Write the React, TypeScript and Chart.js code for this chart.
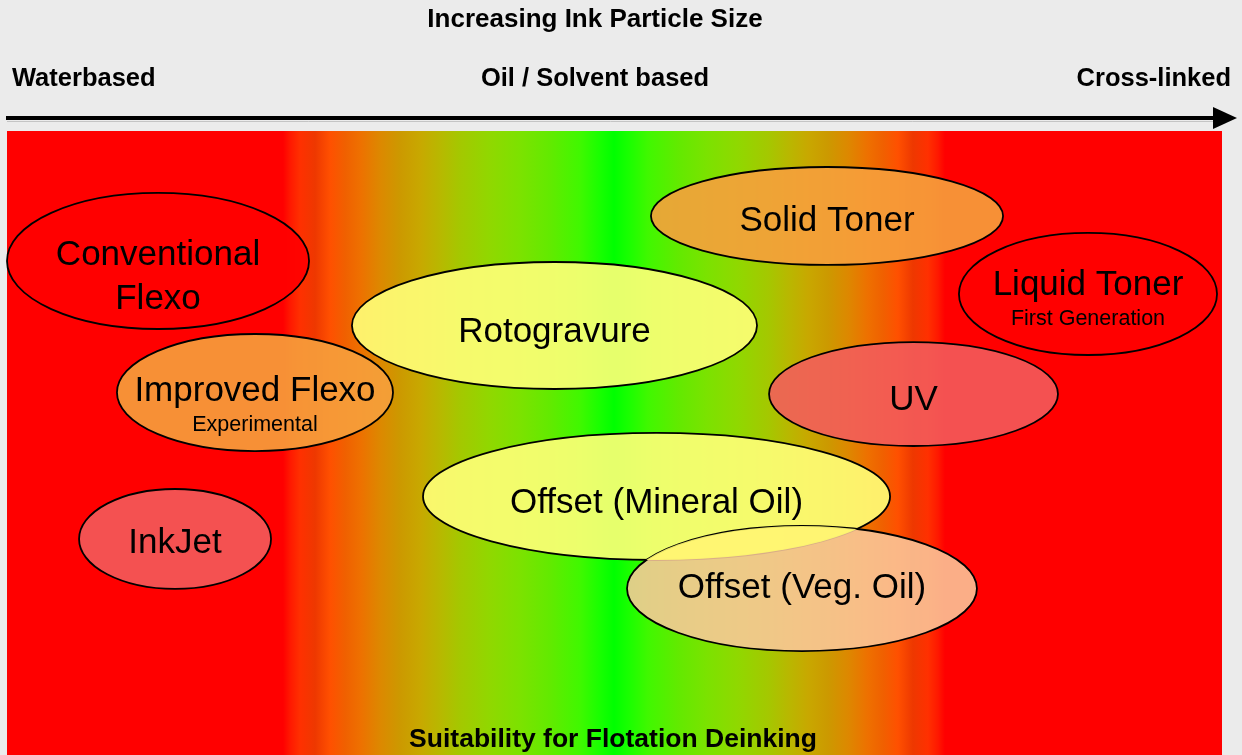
import React, { useEffect, useRef } from "react";
import { Chart, registerables } from "chart.js";

Chart.register(...registerables);

// ---- Data -------------------------------------------------------------
// x: ink particle size (0 = waterbased, 100 = cross-linked)
// y: suitability for flotation deinking scale position (0 bottom, 100 top)
const inkLabels: string[][] = [
  ["Conventional", "Flexo"],
  ["Improved Flexo"],
  ["InkJet"],
  ["Rotogravure"],
  ["Solid Toner"],
  ["Liquid Toner"],
  ["UV"],
  ["Offset (Mineral Oil)"],
  ["Offset (Veg. Oil)"],
];
const inkSubLabels = ["", "Experimental", "", "", "", "First Generation", "", "", ""];
const sizeCentre = [12.43, 20.41, 13.83, 45.06, 67.49, 88.97, 74.61, 53.46, 65.43];
const suitCentre = [79.17, 58.09, 34.62, 68.83, 86.38, 73.88, 57.85, 41.43, 26.68];
const sizeSpread = [12.43, 11.36, 7.9, 16.67, 14.49, 10.62, 11.89, 19.22, 14.4];
const suitSpread = [10.9, 9.38, 8.01, 10.18, 7.85, 9.78, 8.33, 10.18, 10.02];

// background suitability band: distance from the optimum (x units) and colour
const optimumSize = 49.96;
const bandDistance = [0, 1.15, 2.8, 5.27, 7.74, 10.2, 12.67, 14.32, 15.97, 17.61, 19.26, 20.9, 22.14, 23.37, 24.6, 25.84, 26.67, 27.24];
const bandColours = [
  "#00ff00", "#18ff00", "#40f800", "#62ea00", "#7ce200", "#90d800", "#a4c800", "#b8b800", "#c8a800",
  "#cc9900", "#dd8800", "#ee7000", "#f06000", "#ff5000", "#ee3800", "#ff3000", "#ff1800", "#ff0000",
];

const headerTitle = "Increasing Ink Particle Size";
const headerLeft = "Waterbased";
const headerMid = "Oil / Solvent based";
const headerRight = "Cross-linked";
const footerTitle = "Suitability for Flotation Deinking";

// ---- Styles / layout ---------------------------------------------------
const FONT = "'Liberation Sans', Arial, Helvetica, sans-serif";
const PAGE_BG = "#ebebeb";
const inkFills = [
  "rgba(255,0,0,0.92)",
  "rgba(246,160,60,0.9)",
  "rgba(242,92,92,0.88)",
  "rgba(255,255,120,0.9)",
  "rgba(246,160,60,0.9)",
  "rgba(255,0,0,0.92)",
  "rgba(242,92,92,0.88)",
  "rgba(255,255,120,0.9)",
  "rgba(250,200,155,0.87)",
];
const labelNudge = [4, 8.5, 14, 16.5, 15, 1, 16, 16.5, 9.5];
const BIG_GAP = 44;
const SUB_GAP = 30;

const diagramPlugin = {
  id: "inkDiagram",
  beforeDraw(chart: any) {
    const { ctx, chartArea: a } = chart;
    const xs = chart.scales.x;
    ctx.save();
    ctx.fillStyle = PAGE_BG;
    ctx.fillRect(0, 0, chart.width, chart.height);
    const span = a.right - a.left;
    const g = ctx.createLinearGradient(a.left, 0, a.right, 0);
    g.addColorStop(0, "#ff0000");
    g.addColorStop(1, "#ff0000");
    for (let i = bandDistance.length - 1; i >= 0; i--) {
      const p = (xs.getPixelForValue(optimumSize - bandDistance[i]) - a.left) / span;
      g.addColorStop(Math.min(1, Math.max(0, p)), bandColours[i]);
    }
    for (let i = 1; i < bandDistance.length; i++) {
      const p = (xs.getPixelForValue(optimumSize + bandDistance[i]) - a.left) / span;
      g.addColorStop(Math.min(1, Math.max(0, p)), bandColours[i]);
    }
    ctx.fillStyle = g;
    ctx.fillRect(a.left, a.top, span, a.bottom - a.top);

    // header texts
    ctx.fillStyle = "#000";
    ctx.font = `bold 26px ${FONT}`;
    ctx.textBaseline = "alphabetic";
    ctx.textAlign = "center";
    ctx.fillText(headerTitle, 595, 27);
    ctx.font = `bold 25.5px ${FONT}`;
    ctx.fillText(headerMid, 595, 86);
    ctx.textAlign = "left";
    ctx.fillText(headerLeft, 12, 86);
    ctx.textAlign = "right";
    ctx.fillText(headerRight, 1231, 86);

    // arrow
    ctx.strokeStyle = "#c4c4c4";
    ctx.lineWidth = 1;
    ctx.beginPath();
    ctx.moveTo(a.left, 121.5);
    ctx.lineTo(1214, 121.5);
    ctx.stroke();
    ctx.strokeStyle = "#000";
    ctx.lineWidth = 4;
    ctx.beginPath();
    ctx.moveTo(a.left - 1, 118);
    ctx.lineTo(1216, 118);
    ctx.stroke();
    ctx.fillStyle = "#000";
    ctx.beginPath();
    ctx.moveTo(1213, 107);
    ctx.lineTo(1237, 118);
    ctx.lineTo(1213, 129);
    ctx.closePath();
    ctx.fill();
    ctx.restore();
  },
  afterDatasetsDraw(chart: any) {
    const { ctx } = chart;
    const xs = chart.scales.x;
    const ys = chart.scales.y;
    const pts = chart.data.datasets[0].data as any[];
    const geom = pts.map((d) => {
      const cx = xs.getPixelForValue(d.x);
      const cy = ys.getPixelForValue(d.y);
      return {
        cx,
        cy,
        rx: xs.getPixelForValue(d.x + d.rx) - cx,
        ry: cy - ys.getPixelForValue(d.y + d.ry),
      };
    });
    const path = (i: number) => {
      const e = geom[i];
      ctx.beginPath();
      ctx.ellipse(e.cx, e.cy, e.rx, e.ry, 0, 0, Math.PI * 2);
    };
    ctx.save();
    geom.forEach((_, i) => {
      path(i);
      ctx.fillStyle = inkFills[i];
      ctx.fill();
      ctx.strokeStyle = "#000";
      ctx.lineWidth = 1.8;
      ctx.stroke();
    });
    // mineral oil sits visually on top where it meets veg. oil
    ctx.save();
    path(8);
    ctx.clip();
    path(7);
    ctx.fillStyle = "rgba(255,250,110,0.9)";
    ctx.fill();
    ctx.restore();

    // labels
    ctx.fillStyle = "#000";
    ctx.textAlign = "center";
    ctx.textBaseline = "alphabetic";
    geom.forEach((e, i) => {
      const yb = e.cy + labelNudge[i];
      ctx.font = `35px ${FONT}`;
      inkLabels[i].forEach((line, k) => {
        ctx.fillText(line, e.cx, yb + k * BIG_GAP);
      });
      if (inkSubLabels[i]) {
        ctx.font = `21.5px ${FONT}`;
        ctx.fillText(inkSubLabels[i], e.cx, yb + (inkLabels[i].length - 1) * BIG_GAP + SUB_GAP);
      }
    });

    // footer
    ctx.font = `bold 26.5px ${FONT}`;
    ctx.fillText(footerTitle, 613, 747);
    ctx.restore();
  },
};

export default function App() {
  const ref = useRef<HTMLCanvasElement | null>(null);
  useEffect(() => {
    if (!ref.current) return;
    const data = sizeCentre.map((x, i) => ({ x, y: suitCentre[i], rx: sizeSpread[i], ry: suitSpread[i] }));
    const chart = new Chart(ref.current, {
      type: "scatter",
      data: {
        datasets: [
          {
            label: "Ink types",
            data,
            pointRadius: 0,
            pointHoverRadius: 0,
          },
        ],
      },
      options: {
        animation: false,
        responsive: false,
        layout: { padding: { left: 7, top: 131, right: 20, bottom: 0 } },
        scales: {
          x: { type: "linear", min: 0, max: 100, display: false },
          y: { type: "linear", min: 0, max: 100, display: false },
        },
        plugins: { legend: { display: false }, tooltip: { enabled: false } },
        events: [],
      },
      plugins: [diagramPlugin],
    });
    return () => chart.destroy();
  }, []);
  return (
    <div style={{ position: "fixed", left: 0, top: 0, width: 1242, height: 755, background: PAGE_BG }}>
      <canvas ref={ref} width={1242} height={755} style={{ display: "block" }} />
    </div>
  );
}
